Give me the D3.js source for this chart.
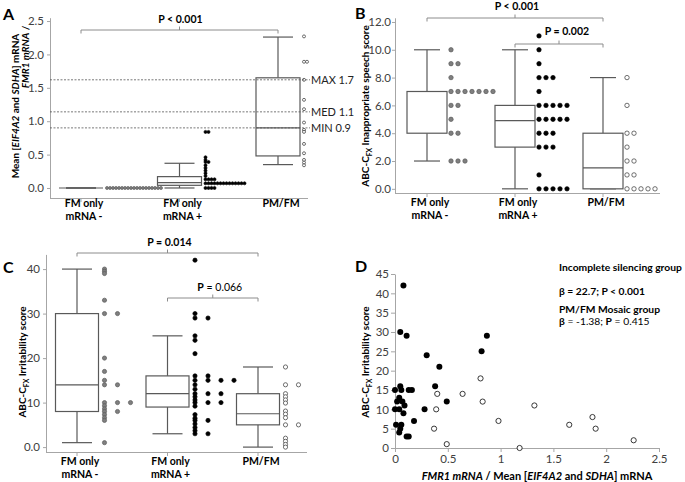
<!DOCTYPE html>
<html><head><meta charset="utf-8">
<script src="https://cdn.jsdelivr.net/npm/d3@7"></script>
<style>
body{margin:0;background:#fff}
svg{display:block}
text{font-family:Lato,'Open Sans','DejaVu Sans',sans-serif}
</style>
</head><body>
<svg id="c" width="685" height="482"></svg>
<script>
// ---------------- DATA ----------------
const categories = ["FM only mRNA -", "FM only mRNA +", "PM/FM"];
const categoryLines = [["FM only", "mRNA -"], ["FM only", "mRNA +"], ["PM/FM"]];

// Panel A : FMR1 mRNA ratio
const aTicks = [0, 0.5, 1, 1.5, 2, 2.5];
// [whisker low, Q1, median, Q3, whisker high]
const aBoxes = [[0, 0, 0, 0, 0], [0, 0.04, 0.08, 0.17, 0.37], [0.35, 0.48, 0.90, 1.65, 2.26]];
const aDotsNeg = [0,0,0,0,0,0,0,0,0,0,0,0,0,0,0,0,0,0,0];
const aDotsPos = [0.84,0.84,0.46,0.42,0.39,0.39,0.34,0.30,0.26,0.22,0.18,0.13,0.13,0.13,0.13,
                  0.07,0.07,0.07,0.07,0.07,0.07,0.07,0.07,0.07,0.07,0.07,0.07,0.07,0.07,0,0,0,0];
const aDotsPm = [2.27,1.89,1.89,1.62,1.32,1.18,0.98,0.87,0.84,0.66,0.52,0.42,0.38,0.34];
const aRefValues = [1.62, 1.14, 0.90];
const aRefLabels = ["MAX 1.7", "MED 1.1", "MIN 0.9"];
const aPText = "P < 0.001";

// Panel B : inappropriate speech
const bTicks = [0, 2, 4, 6, 8, 10, 12];
const bBoxes = [[2, 4, 7, 7, 10], [0, 3, 4.9, 6, 10], [0, 0, 1.5, 4, 8]];
const bDotsNeg = [10,9,9,8,7,7,7,7,7,7,7,6,6,5,4,4,2,2,2];
const bDotsPos = [11,10,9,8,8,8,7,6,6,6,6,6,5,5,5,5,5,4,4,4,3,3,3,1,0,0,0,0,0];
const bDotsPm = [8,6,4,4,3,2,2,1,1,0,0,0,0,0];
const bPText1 = "P < 0.001";
const bPText2 = "P = 0.002";

// Panel C : irritability
const cTicks = [0, 10, 20, 30, 40];
const cBoxes = [[1, 8, 14, 30, 40], [3, 9, 12, 16, 25], [0, 5, 7.5, 12, 18]];
const cDotsNeg = [40,39.5,39,33,30,30,20,17,15,14,14,10,10,10,9.3,8.6,8,8,7.3,6.6,6,1];
const cDotsPos = [42,30,29,29,25,24,21,16,16,15,15,15,15,14,13,12,12,12,11.3,10.6,10,10,10,9.2,7.3,6.5,6,6,5.2,4.4,3.7,3,3];
const cDotsPm = [18,14,14,12,11.3,10.6,9.9,8.1,7.4,6.6,5,5,2,1.3,0.6,0];
const cPText1 = "P = 0.014";
const cPText2 = "0.066";

// Panel D : scatter
const dXTicks = [0, 0.5, 1, 1.5, 2, 2.5];
const dYTicks = [0, 5, 10, 15, 20, 25, 30, 35, 40, 45];
const dIncX = [0.08,0.05,0.11,0.30,0.42,0.38,0.49,0.28,0.18,0.82,0.87,0.00,0.05,0.06,0.13,0.16,0.04,0.02,0.07,0.09,0.00,0.04,0.08,0.01,0.06,0.05,0.04,0.11,0.13];
const dIncY = [42,30,29,24,21,16,12,10,7,25,29,15,16,15,15,15,13,12,12,11,10,10,9,6,6,5,4,3,3];
const dMosX = [0.37,0.39,0.40,0.49,0.64,0.81,0.83,0.98,1.18,1.32,1.65,1.87,1.90,2.26];
const dMosY = [5,10,14,1,14,18,12,7,0,11,6,8,5,2];
const dNote1 = "Incomplete silencing group";
const dNote2 = "β = 22.7; P < 0.001";
const dNote3 = "PM/FM Mosaic group";

// ---------------- DRAWING ----------------
const svg = d3.select("#c");
const AXC = "#a6a6a6", BOXC = "#595959", TXT = "#404040";
const dotStyles = [
  {fill: "#7f7f7f", stroke: "#5a5a5a"},
  {fill: "#000", stroke: "#000"},
  {fill: "#fff", stroke: "#333"}
];

function rich(g, x, y, parts, o = {}) {
  const size = o.size || 11;
  const t = g.append("text").attr("x", x).attr("y", y)
    .attr("text-anchor", o.anchor || "start")
    .attr("font-size", size)
    .attr("font-weight", o.weight || "bold")
    .attr("fill", o.fill || "#000");
  if (o.rotate) t.attr("transform", `rotate(-90,${x},${y})`);
  let prevSub = false;
  parts.forEach(p => {
    const s = t.append("tspan");
    const isObj = typeof p !== "string";
    s.text(isObj ? p.t : p);
    if (isObj && p.i) s.attr("font-style", "italic");
    if (isObj && p.w) s.attr("font-weight", p.w);
    if (isObj && p.sub) s.attr("font-size", size * 0.68).attr("dy", 2.5);
    if (prevSub) s.attr("dy", -2.5);
    prevSub = isObj && !!p.sub;
  });
  return t;
}

function dotLayout(values) {
  const counts = new Map();
  return values.map(v => { const k = counts.get(v) || 0; counts.set(v, k + 1); return {v, k}; });
}

function styleAxis(sel, fs) {
  sel.select(".domain").attr("stroke", AXC);
  sel.selectAll(".tick line").attr("stroke", AXC);
  sel.selectAll(".tick text").attr("fill", TXT).attr("font-size", fs)
     .style("font-family", "Lato,'Open Sans',sans-serif");
}

function bracket(g, x1, x2, y, tx, ty, parts) {
  const xm = (x1 + x2) / 2;
  g.append("path").attr("d", `M${x1},${y + 3.5}V${y}H${x2}V${y + 3.5}M${xm},${y}V${y - 3.5}`)
    .attr("fill", "none").attr("stroke", "#8c8c8c").attr("stroke-width", 1);
  rich(g, xm + tx, ty, parts, {anchor: "middle", size: 10.5});
}

function boxPanel(o) {
  const g = svg.append("g");
  const y = d3.scaleLinear().domain(o.yDomain).range(o.yRange);
  const x = d3.scalePoint().domain(categories).range(o.xRange);
  const ya = g.append("g").attr("transform", `translate(${o.axisX},0)`)
    .call(d3.axisLeft(y).tickValues(o.ticks).tickFormat(o.fmt).tickSize(3).tickSizeOuter(0).tickPadding(o.pad));
  styleAxis(ya, 11.5);
  const xa = g.append("g");
  xa.append("line").attr("x1", o.axisX).attr("x2", o.xRight)
    .attr("y1", o.yRange[0] + 0.5).attr("y2", o.yRange[0] + 0.5).attr("stroke", AXC);
  xa.selectAll("line.t").data(categories).join("line").attr("class", "t")
    .attr("x1", d => x(d)).attr("x2", d => x(d))
    .attr("y1", o.yRange[0]).attr("y2", o.yRange[0] + 4).attr("stroke", AXC);
  categories.forEach((c, i) => {
    categoryLines[i].forEach((ln, j) => {
      g.append("text").attr("x", x(c) + 3).attr("y", o.labelY[j]).attr("text-anchor", "middle")
        .attr("font-size", 10.5).attr("font-weight", "bold").text(ln);
    });
  });
  // boxes
  categories.forEach((c, i) => {
    const [lo, q1, md, q3, hi] = o.boxes[i];
    const cx = x(c), hw = o.boxW / 2, cw = o.capW / 2;
    const bg = g.append("g").attr("stroke", BOXC).attr("stroke-width", 1.2).attr("fill", "none");
    bg.append("line").attr("x1", cx).attr("x2", cx).attr("y1", y(hi)).attr("y2", y(q3));
    bg.append("line").attr("x1", cx).attr("x2", cx).attr("y1", y(q1)).attr("y2", y(lo));
    bg.append("line").attr("x1", cx - cw).attr("x2", cx + cw).attr("y1", y(hi)).attr("y2", y(hi));
    bg.append("line").attr("x1", cx - cw).attr("x2", cx + cw).attr("y1", y(lo)).attr("y2", y(lo));
    bg.append("rect").attr("x", cx - hw).attr("width", o.boxW)
      .attr("y", y(q3)).attr("height", Math.max(0, y(q1) - y(q3))).attr("fill", "#fff");
    bg.append("line").attr("x1", cx - hw).attr("x2", cx + hw).attr("y1", y(md)).attr("y2", y(md));
  });
  // dots
  o.dots.forEach((vals, i) => {
    const x0 = x(categories[i]) + o.boxW / 2 + o.dotGap;
    const st = dotStyles[i];
    g.append("g").selectAll("circle").data(dotLayout(vals)).join("circle")
      .attr("cx", d => x0 + d.k * o.dotStep).attr("cy", d => y(d.v)).attr("r", o.dotR)
      .attr("fill", st.fill).attr("stroke", st.stroke).attr("stroke-width", 0.7);
  });
  return {g, x, y};
}

// ----- Panel A -----
const A = boxPanel({
  axisX: 50, xRight: 308, yDomain: [-0.15, 2.55], yRange: [198, 17.7],
  xRange: [81, 278], ticks: aTicks, fmt: d3.format(".1f"), pad: 3,
  boxes: aBoxes, boxW: 44, capW: 30, dots: [aDotsNeg, aDotsPos, aDotsPm],
  dotGap: 4, dotStep: 3, dotR: 1.5, labelY: [207, 220]
});
aRefValues.forEach((v, i) => {
  A.g.append("line").attr("x1", 50).attr("x2", 310).attr("y1", A.y(v)).attr("y2", A.y(v))
    .attr("stroke", "#555").attr("stroke-width", 0.8).attr("stroke-dasharray", "2,1.5");
  A.g.append("text").attr("x", 311).attr("y", A.y(v) + 4).attr("font-size", 11)
    .attr("fill", "#222").text(aRefLabels[i]);
});
bracket(A.g, A.x(categories[0]), A.x(categories[2]), 30, 1, 23, [aPText]);
rich(A.g, 3, 20, ["A"], {size: 16});
rich(A.g, 28.5, 57, [{t: "FMR1 mRNA", i: true}, " /"], {rotate: true, anchor: "middle", size: 10});
rich(A.g, 19, 106, ["Mean [", {t: "EIF4A2", i: true}, " and ", {t: "SDHA", i: true}, "] mRNA"],
  {rotate: true, anchor: "middle", size: 10});

// ----- Panel B -----
const B = boxPanel({
  axisX: 395, xRight: 660, yDomain: [-0.3, 12.3], yRange: [193, 17.8],
  xRange: [427, 603], ticks: bTicks, fmt: d3.format(".1f"), pad: 1,
  boxes: bBoxes, boxW: 40, capW: 26, dots: [bDotsNeg, bDotsPos, bDotsPm],
  dotGap: 4, dotStep: 7, dotR: 2.2, labelY: [206, 219]
});
bracket(B.g, B.x(categories[0]), B.x(categories[2]), 18, 2, 9.5, [bPText1]);
bracket(B.g, B.x(categories[1]), B.x(categories[2]), 44, 8, 35, [bPText2]);
rich(B.g, 355, 19, ["B"], {size: 16});
rich(B.g, 369, 106, ["ABC-C", {t: "FX", sub: true}, " Inappropriate speech score"],
  {rotate: true, anchor: "middle", size: 10});

// ----- Panel C -----
const C = boxPanel({
  axisX: 46, xRight: 307, yDomain: [-1.1, 43.3], yRange: [452, 254.4],
  xRange: [77, 258], ticks: cTicks, fmt: d => d === 0 ? "0.0" : String(d), pad: 3,
  boxes: cBoxes, boxW: 43, capW: 30, dots: [cDotsNeg, cDotsPos, cDotsPm],
  dotGap: 6, dotStep: 13, dotR: 2.1, labelY: [465, 478]
});
bracket(C.g, C.x(categories[0]), C.x(categories[2]), 253, 2, 246, [cPText1]);
bracket(C.g, C.x(categories[1]), C.x(categories[2]), 298, 7, 291, ["P", {t: " = " + cPText2, w: "normal"}]);
rich(C.g, 3, 273, ["C"], {size: 16});
rich(C.g, 26, 362, ["ABC-C", {t: "FX", sub: true}, " Irritability score"],
  {rotate: true, anchor: "middle", size: 10});

// ----- Panel D -----
const D = svg.append("g");
const dx = d3.scaleLinear().domain([0, 2.5]).range([395, 659]);
const dyS = d3.scaleLinear().domain([0, 45]).range([448, 274]);
const dya = D.append("g").attr("transform", "translate(395,0)")
  .call(d3.axisLeft(dyS).tickValues(dYTicks).tickSize(4).tickSizeOuter(0).tickPadding(2));
styleAxis(dya, 11.5);
const dxa = D.append("g").attr("transform", "translate(0,448)")
  .call(d3.axisBottom(dx).tickValues(dXTicks).tickFormat(d3.format("")).tickSize(4).tickSizeOuter(0).tickPadding(3));
styleAxis(dxa, 11.5);
D.append("g").selectAll("circle").data(dIncX.map((v, i) => [v, dIncY[i]])).join("circle")
  .attr("cx", d => dx(d[0])).attr("cy", d => dyS(d[1])).attr("r", 3).attr("fill", "#000");
D.append("g").selectAll("circle").data(dMosX.map((v, i) => [v, dMosY[i]])).join("circle")
  .attr("cx", d => dx(d[0])).attr("cy", d => dyS(d[1])).attr("r", 2.6)
  .attr("fill", "#fff").attr("stroke", "#222").attr("stroke-width", 0.9);
rich(D, 355, 272, ["D"], {size: 16});
rich(D, 369, 362, ["ABC-C", {t: "FX", sub: true}, " Irritability score"],
  {rotate: true, anchor: "middle", size: 10});
rich(D, 537, 480, [{t: "FMR1 mRNA", i: true}, " / Mean [", {t: "EIF4A2", i: true}, " and ", {t: "SDHA", i: true}, "] mRNA"],
  {anchor: "middle", size: 11});
rich(D, 559, 271, [dNote1], {size: 10.3});
rich(D, 559, 295, [dNote2], {size: 10.3});
rich(D, 559, 313, [dNote3], {size: 10.3});
rich(D, 559, 325, ["β", {t: " = -1.38; ", w: "normal"}, "P", {t: " = 0.415", w: "normal"}], {size: 10.3});
</script>
</body></html>
